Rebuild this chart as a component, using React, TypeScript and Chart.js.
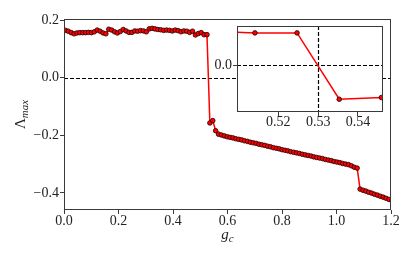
import React, { useEffect, useRef } from "react";
import { Chart, registerables } from "chart.js";

Chart.register(...registerables);

// ---- data ----
const gValues = [
  0.0053, 0.0159, 0.0265, 0.0371, 0.0477, 0.0583, 0.0689, 0.0795, 0.0901, 0.1007,
  0.1113, 0.1219, 0.1325, 0.1431, 0.1537, 0.1643, 0.1749, 0.1855, 0.1961, 0.2067,
  0.2173, 0.2279, 0.2385, 0.2491, 0.2597, 0.2703, 0.2809, 0.2915, 0.3021, 0.3127,
  0.3233, 0.3339, 0.3445, 0.3551, 0.3657, 0.3763, 0.3869, 0.3975, 0.4081, 0.4187,
  0.4293, 0.4399, 0.4505, 0.4611, 0.4717, 0.4823, 0.4929, 0.5035, 0.5141, 0.5247,
  0.5353, 0.5459, 0.5565, 0.5671, 0.5777, 0.5883, 0.5989, 0.6095, 0.6201, 0.6307,
  0.6413, 0.6519, 0.6625, 0.6731, 0.6837, 0.6943, 0.7049, 0.7155, 0.7261, 0.7367,
  0.7473, 0.7579, 0.7685, 0.7791, 0.7897, 0.8003, 0.8109, 0.8215, 0.8321, 0.8427,
  0.8533, 0.8639, 0.8745, 0.8851, 0.8957, 0.9063, 0.9169, 0.9275, 0.9381, 0.9487,
  0.9593, 0.9699, 0.9805, 0.9911, 1.0017, 1.0123, 1.0229, 1.0335, 1.0441, 1.0547,
  1.0653, 1.0759, 1.0865, 1.0971, 1.1077, 1.1183, 1.1289, 1.1395, 1.1501, 1.1607,
  1.1713, 1.1819, 1.1925, 1.2031,
];

const lambdaMax = [
  0.165, 0.162, 0.157, 0.153, 0.156, 0.157, 0.157, 0.157, 0.158, 0.157,
  0.160, 0.166, 0.162, 0.156, 0.153, 0.169, 0.166, 0.160, 0.156, 0.161,
  0.168, 0.163, 0.158, 0.158, 0.163, 0.162, 0.164, 0.163, 0.160, 0.170,
  0.172, 0.170, 0.168, 0.167, 0.165, 0.166, 0.165, 0.163, 0.166, 0.164,
  0.160, 0.163, 0.162, 0.158, 0.162, 0.149, 0.154, 0.157, 0.150, 0.150,
  -0.157, -0.149, -0.184, -0.196, -0.199, -0.202, -0.205, -0.207, -0.209, -0.212,
  -0.214, -0.216, -0.219, -0.221, -0.224, -0.226, -0.228, -0.231, -0.233, -0.235,
  -0.238, -0.240, -0.243, -0.245, -0.247, -0.250, -0.252, -0.254, -0.257, -0.259,
  -0.261, -0.263, -0.266, -0.268, -0.270, -0.272, -0.275, -0.277, -0.279, -0.281,
  -0.284, -0.286, -0.288, -0.291, -0.293, -0.295, -0.298, -0.300, -0.302, -0.306,
  -0.311, -0.314, -0.387, -0.391, -0.394, -0.398, -0.401, -0.405, -0.408, -0.412,
  -0.415, -0.419, -0.423, -0.427,
];

const mainXTicks = [0.0, 0.2, 0.4, 0.6, 0.8, 1.0, 1.2];
const mainYTicks = [-0.4, -0.2, 0.0, 0.2];
const insetXTicks = [0.52, 0.53, 0.54];
const insetYTicks = [0.0];
const criticalG = 0.53;

const FONT = "'Liberation Serif', 'Times New Roman', serif";
const SPINE = "#3a3a3a";
const TEXT = "#222";

const fmt = (digits: number) => (v: any) => {
  const n = Number(v);
  if (Math.abs(n) < 1e-9) return (0).toFixed(digits);
  return n.toFixed(digits).replace("-", "\u2212");
};

const points = () => gValues.map((g, i) => ({ x: g, y: lambdaMax[i] }));

const datasetStyle = {
  borderColor: "#ff0000",
  borderWidth: 1.5,
  pointRadius: 2.3,
  pointBackgroundColor: "#ff0000",
  pointBorderColor: "#1a0000",
  pointBorderWidth: 0.8,
  tension: 0,
};

const boxPlugin = (opts: { vline?: number }) => ({
  id: "boxAndRefs",
  beforeDraw(chart: any) {
    const { ctx, chartArea } = chart;
    ctx.save();
    ctx.fillStyle = "#ffffff";
    ctx.fillRect(chartArea.left, chartArea.top, chartArea.right - chartArea.left, chartArea.bottom - chartArea.top);
    ctx.restore();
  },
  beforeDatasetsDraw(chart: any) {
    const { ctx, chartArea, scales } = chart;
    ctx.save();
    ctx.strokeStyle = "#000";
    ctx.lineWidth = 1.2;
    ctx.setLineDash([4, 2]);
    const y0 = Math.round(scales.y.getPixelForValue(0)) + 0.5;
    ctx.beginPath();
    ctx.moveTo(chartArea.left, y0);
    ctx.lineTo(chartArea.right, y0);
    ctx.stroke();
    if (opts.vline !== undefined) {
      const x0 = Math.round(scales.x.getPixelForValue(opts.vline)) + 0.5;
      ctx.beginPath();
      ctx.moveTo(x0, chartArea.top);
      ctx.lineTo(x0, chartArea.bottom);
      ctx.stroke();
    }
    ctx.restore();
  },
  afterDraw(chart: any) {
    const { ctx, chartArea } = chart;
    ctx.save();
    ctx.strokeStyle = SPINE;
    ctx.lineWidth = 1;
    ctx.strokeRect(
      Math.round(chartArea.left) + 0.5,
      Math.round(chartArea.top) + 0.5,
      Math.round(chartArea.right - chartArea.left) - 1,
      Math.round(chartArea.bottom - chartArea.top) - 1
    );
    ctx.restore();
  },
});

const titlePlugin = {
  id: "axisTitles",
  afterDraw(chart: any) {
    const { ctx, chartArea } = chart;
    ctx.save();
    ctx.fillStyle = TEXT;
    ctx.textBaseline = "alphabetic";
    ctx.textAlign = "left";
    // x title g_c
    ctx.font = `italic 15px ${FONT}`;
    const wg = ctx.measureText("g").width;
    ctx.font = `italic 11px ${FONT}`;
    const wc = ctx.measureText("c").width;
    const cx = (chartArea.left + chartArea.right) / 2;
    const sx = cx - (wg + wc) / 2;
    ctx.font = `italic 15px ${FONT}`;
    ctx.fillText("g", sx, 239);
    ctx.font = `italic 11px ${FONT}`;
    ctx.fillText("c", sx + wg, 241.5);
    // y title Lambda_max
    ctx.translate(25, (chartArea.top + chartArea.bottom) / 2);
    ctx.rotate(-Math.PI / 2);
    ctx.font = `15px ${FONT}`;
    const wl = ctx.measureText("\u039B").width;
    ctx.font = `italic 11px ${FONT}`;
    const wm = ctx.measureText("max").width;
    const sy = -(wl + wm) / 2;
    ctx.font = `15px ${FONT}`;
    ctx.fillText("\u039B", sy, 0);
    ctx.font = `italic 11px ${FONT}`;
    ctx.fillText("max", sy + wl, 2.5);
    ctx.restore();
  },
};

const axisCommon = (ticksArr: number[], digits: number, pad: number) => ({
  type: "linear" as const,
  afterBuildTicks: (s: any) => {
    s.ticks = ticksArr.map((v) => ({ value: v }));
  },
  grid: {
    drawOnChartArea: false,
    drawTicks: true,
    tickLength: 4,
    tickWidth: 1,
    tickColor: SPINE,
    color: SPINE,
  },
  border: { display: false },
  ticks: {
    font: { family: FONT, size: 14 },
    color: TEXT,
    padding: pad,
    maxRotation: 0,
    autoSkip: false,
    callback: fmt(digits),
  },
});

export default function App() {
  const mainRef = useRef<HTMLCanvasElement>(null);
  const insetRef = useRef<HTMLCanvasElement>(null);

  useEffect(() => {
    const main = new Chart(mainRef.current!, {
      type: "line",
      data: { datasets: [{ data: points(), ...datasetStyle }] as any },
      options: {
        responsive: false,
        animation: false,
        layout: { padding: { left: 0, top: 19, right: 24, bottom: 0 } },
        plugins: { legend: { display: false }, tooltip: { enabled: false } },
        scales: {
          x: {
            ...axisCommon(mainXTicks, 1, -0.6),
            min: 0,
            max: 1.2,
            afterFit: (s: any) => {
              s.height = 50;
            },
          },
          y: {
            ...axisCommon(mainYTicks, 1, 1),
            min: -0.4597,
            max: 0.2045,
            afterFit: (s: any) => {
              s.width = 64;
            },
          },
        } as any,
      },
      plugins: [boxPlugin({}), titlePlugin],
    });

    const inset = new Chart(insetRef.current!, {
      type: "line",
      data: { datasets: [{ data: points(), ...datasetStyle }] as any },
      options: {
        responsive: false,
        animation: false,
        layout: { padding: { left: 0, top: 26, right: 32, bottom: 0 } },
        plugins: { legend: { display: false }, tooltip: { enabled: false } },
        scales: {
          x: {
            ...axisCommon(insetXTicks, 2, -1.6),
            min: 0.5096,
            max: 0.5463,
            afterFit: (s: any) => {
              s.height = 38;
            },
          },
          y: {
            ...axisCommon(insetYTicks, 1, 1),
            min: -0.216,
            max: 0.182,
            afterFit: (s: any) => {
              s.width = 57;
            },
          },
        } as any,
      },
      plugins: [boxPlugin({ vline: criticalG })],
    });

    return () => {
      main.destroy();
      inset.destroy();
    };
  }, []);

  return (
    <div style={{ position: "fixed", left: 0, top: 0, width: 415, height: 260, background: "#fff" }}>
      <canvas ref={mainRef} width={415} height={260} style={{ position: "absolute", left: 0, top: 0, width: 415, height: 260 }} />
      <canvas ref={insetRef} width={235} height={150} style={{ position: "absolute", left: 180, top: 0, width: 235, height: 150 }} />
    </div>
  );
}
